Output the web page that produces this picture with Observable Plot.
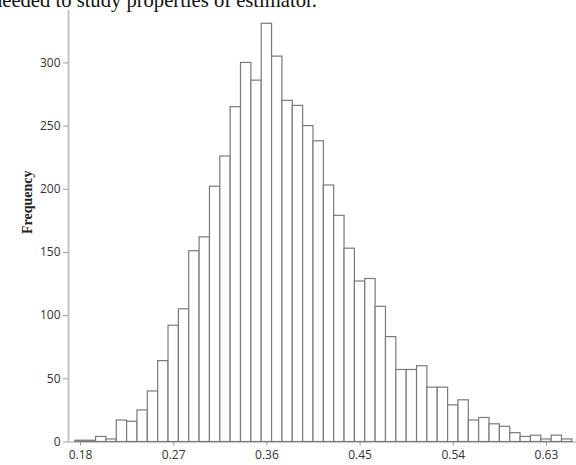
<!DOCTYPE html>
<html>
<head>
<meta charset="utf-8">
<script src="https://cdn.jsdelivr.net/npm/d3@7"></script>
<script src="https://cdn.jsdelivr.net/npm/@observablehq/plot@0.6"></script>
<style>
  html, body { margin: 0; padding: 0; background: #fff; overflow: hidden; }
  #wrap { position: relative; width: 576px; height: 465px; overflow: hidden; }
  #topText { position: absolute; left: -8px; top: -10px; font-family: "Liberation Serif", "Times New Roman", serif; font-size: 20.6px; line-height: 20px; color: #111; white-space: nowrap; }
  #chart { position: absolute; left: 0; top: 0; }
</style>
</head>
<body>
<div id="wrap">
  <div id="chart"></div>
  <div id="topText">needed to study properties of estimator.</div>
</div>
<script>
// Bin centers (estimator value) and frequencies
const binCenters = [0.18,0.19,0.20,0.21,0.22,0.23,0.24,0.25,0.26,0.27,0.28,0.29,0.30,0.31,0.32,0.33,0.34,0.35,0.36,0.37,0.38,0.39,0.40,0.41,0.42,0.43,0.44,0.45,0.46,0.47,0.48,0.49,0.50,0.51,0.52,0.53,0.54,0.55,0.56,0.57,0.58,0.59,0.60,0.61,0.62,0.63,0.64,0.65];
const frequencies = [1,1,4,2,17,16,25,40,64,92,105,151,162,202,226,265,300,286,331,305,270,266,250,238,203,179,153,127,129,107,83,57,57,60,43,43,29,33,17,19,14,12,7,4,5,2,5,2];
const binWidth = 0.01;
const xTicks = [0.18, 0.27, 0.36, 0.45, 0.54, 0.63];
const yTicks = [0, 50, 100, 150, 200, 250, 300];
const yLabel = "Frequency";

const data = binCenters.map((c, i) => ({center: c, count: frequencies[i]}));

const chart = Plot.plot({
  width: 576,
  height: 465,
  marginTop: 10,
  marginBottom: 23.5,
  marginLeft: 68,
  marginRight: 0,
  style: {background: "#fff", fontFamily: "'Open Sans', sans-serif", fontSize: "12px"},
  x: {domain: [0.1684, 0.659]},
  y: {domain: [0, 341.5]},
  marks: [
    Plot.ruleY([0], {stroke: "#c4c4c4", strokeWidth: 1.5}),
    Plot.ruleX([0.1684], {y1: 0, y2: 341.5, stroke: "#c4c4c4", strokeWidth: 2}),
    Plot.axisX({ticks: xTicks, tickFormat: d3.format(".2f"), tickSize: 4, tickPadding: 4, stroke: "#999", fill: "#333", label: null}),
    Plot.axisY({ticks: yTicks, tickSize: 5, tickPadding: 3, stroke: "#999", fill: "#333", label: null}),
    Plot.rectY(data, {
      x1: d => d.center - binWidth / 2,
      x2: d => d.center + binWidth / 2,
      y1: 0,
      y2: "count",
      fill: "#fff",
      stroke: "#7a7a7a",
      strokeWidth: 1.2
    }),
    Plot.text([yLabel], {
      frameAnchor: "left",
      textAnchor: "middle",
      dx: -41,
      dy: -24,
      rotate: -90,
      fontFamily: "'Liberation Serif', 'Times New Roman', serif",
      fontWeight: "bold",
      fontSize: 14,
      fill: "#222"
    })
  ]
});
document.getElementById("chart").appendChild(chart);
</script>
</body>
</html>
